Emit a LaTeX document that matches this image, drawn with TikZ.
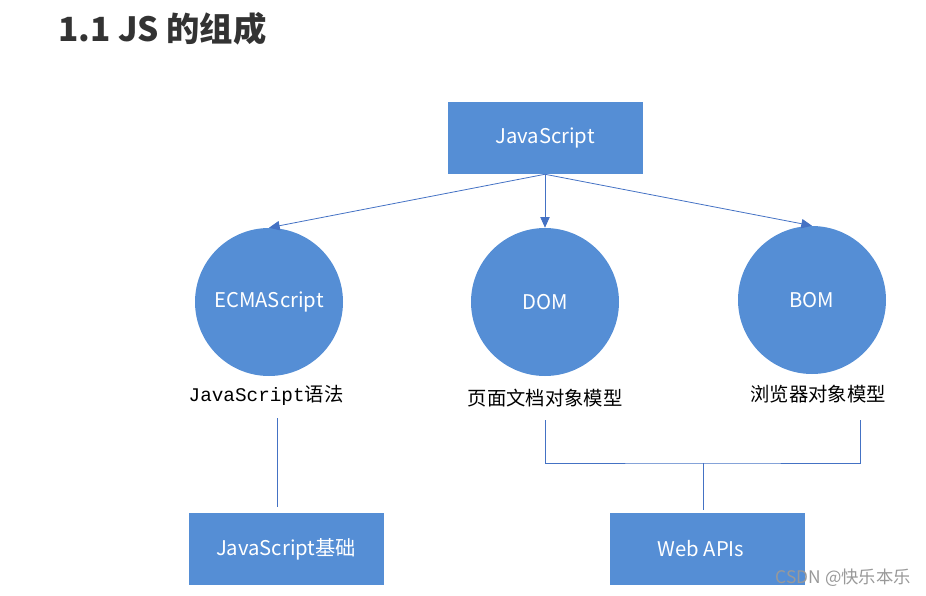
\documentclass[tikz,border=0pt]{standalone}
\usepackage{fontspec}
\setmainfont{Noto Sans CJK SC}
\newfontfamily\monofont{Liberation Mono}
\usetikzlibrary{arrows.meta,positioning}
\definecolor{boxblue}{HTML}{558ED5}
\definecolor{lineblue}{HTML}{4472C4}
\definecolor{titlegray}{HTML}{333333}
\tikzset{
  part/.style={fill=boxblue, draw=none, text=white, font=\fontsize{15.2}{17}\selectfont},
  block/.style={part, rectangle, minimum width=195*0.75pt, minimum height=72*0.75pt},
  ball/.style={part, circle, minimum size=148*0.75pt, inner sep=0pt},
  caption/.style={font=\fontsize{14.5}{17}\selectfont, inner sep=0pt},
  link/.style={lineblue, line width=0.6pt},
  pointer/.style={link, -{Triangle[length=8pt,width=7pt]}}
}
\begin{document}
\begin{tikzpicture}[x=0.75pt, y=-0.75pt]
\useasboundingbox (0,0) rectangle (926,596);
% title
\node[font=\fontsize{25}{30}\selectfont\bfseries, text=titlegray, anchor=west, inner sep=0pt] (title) at (58,29) {1.1 JS 的组成};
% top box and the three parts
\node[block] (js) at (545,138) {JavaScript};
\node[ball] (ecma) at (269,302) {ECMAScript};
\node[ball] (dom) at (545,302) {DOM};
\node[ball] (bom) at (812,300) {BOM};
\draw[pointer] (js.south) -- (ecma.north);
\draw[pointer] (js.south) -- (dom.north);
\draw[pointer] (js.south) -- (bom.north);
% captions
\node[caption] (grammar) at (266,395) {{\monofont JavaScript}语法};
\node[caption] (domtext) at (545,398) {页面文档对象模型};
\node[caption] (bomtext) at (818,394) {浏览器对象模型};
% bottom boxes
\node[block] (basics) at (286,549) {JavaScript基础};
\node[block] (webapi) at (707,549) {\hspace*{-9pt}Web APIs};
\coordinate (g1) at (277,418);
\coordinate (g2) at (277,507);
\draw[link] (g1) -- (g2);
\coordinate (d1) at (545,420);
\coordinate (b1) at (860,420);
\coordinate (mid) at (703,463);
\coordinate (w1) at (703,510);
\draw[link] (d1) |- (mid) -| (b1);
\draw[link] (mid) -- (w1);
% watermark
\node[font=\fontsize{13}{15}\selectfont, text=black!40, anchor=east, inner sep=0pt] (mark) at (911,578) {CSDN @快乐本乐};
\end{tikzpicture}
\end{document}
